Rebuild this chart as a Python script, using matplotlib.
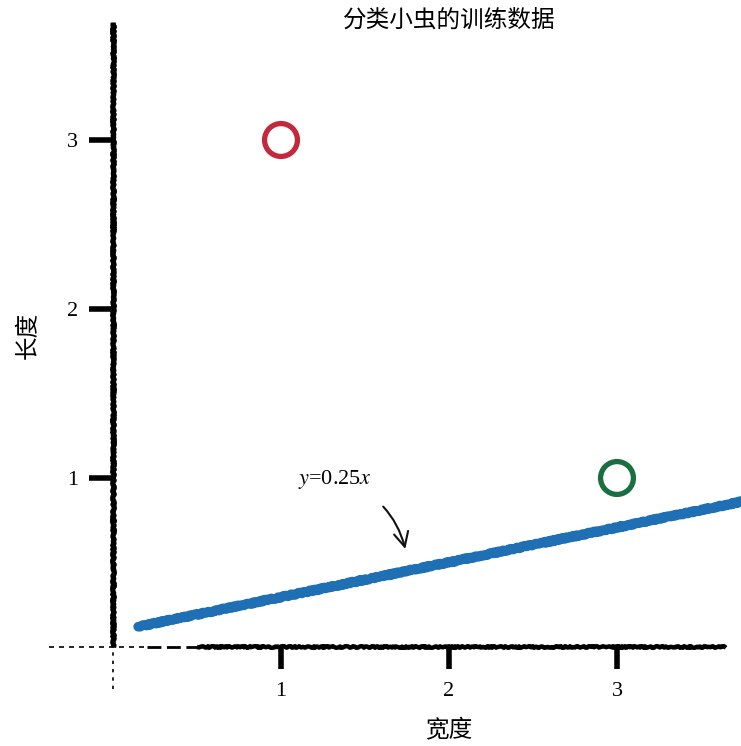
import matplotlib
matplotlib.use("Agg")
import matplotlib.pyplot as plt

plt.rcParams['font.family'] = ['Liberation Serif', 'Noto Sans CJK SC', 'DejaVu Sans']
plt.rcParams['mathtext.fontset'] = 'stix'

# data
red_x, red_y = [1], [3]
green_x, green_y = [3], [1]
line_x = [0.15, 3.74]
line_y = [0.12, 0.86]
ticks = [1, 2, 3]
title = '分类小虫的训练数据'
xlabel = '宽度'
ylabel = '长度'
note = '$y$=0.25$x$'

W, H = 741, 746
fig = plt.figure(figsize=(W / 100, H / 100), dpi=100)
# x: 0 -> px 113, 168 px/unit ; y: 0 -> px 647, 169 px/unit
x0, x1 = -0.4, 3.74
y0, y1 = -0.3, 3.71
left = (113 + x0 * 168) / W
width = (x1 - x0) * 168 / W
bottom = (H - (647 - y0 * 169)) / H
height = (y1 - y0) * 169 / H
ax = fig.add_axes([left, bottom, width, height])
ax.set_xlim(x0, x1)
ax.set_ylim(y0, y1)
ax.spines['left'].set_position(('data', 0))
ax.spines['bottom'].set_position(('data', 0))
for s in ax.spines.values():
    s.set_color('none')

# hand drawn axes
ya, = ax.plot([0, 0], [0, 3.7], color='black', lw=3.8, clip_on=False, solid_capstyle='butt')
ya.set_sketch_params(0.8, 6, 4)
xa, = ax.plot([0.5, 3.65], [0, 0], color='black', lw=3.2, clip_on=False, solid_capstyle='butt')
xa.set_sketch_params(0.8, 6, 4)
xb, = ax.plot([0.2, 0.5], [0, 0], color='black', lw=2.0, ls=(0, (5, 2)), clip_on=False)
xf, = ax.plot([-0.38, 0.2], [0, 0], color='black', lw=1.2, ls=(0, (3, 3)), clip_on=False)
yf, = ax.plot([0, 0], [-0.25, 0], color='black', lw=1.2, ls=(0, (2, 3)), clip_on=False)

ax.set_xticks(ticks)
ax.set_yticks(ticks)
ax.set_xticklabels([str(t) for t in ticks])
ax.set_yticklabels([str(t) for t in ticks])
ax.tick_params(axis='y', length=17, width=4, pad=8, labelsize=16, color='black')
ax.tick_params(axis='x', length=16, width=4, pad=9, labelsize=16, color='black')

# blue line
bl, = ax.plot(line_x, line_y, color='#1f6fb4', lw=7, solid_capstyle='round')
bl.set_sketch_params(0.7, 6, 4)

# circles
ax.scatter(red_x, red_y, s=560, facecolors='none', edgecolors='#c4283d', linewidths=3.8)
ax.scatter(green_x, green_y, s=560, facecolors='none', edgecolors='#1a6e40', linewidths=3.8)

# annotation
ax.annotate(note, xy=(1.74, 0.58), xytext=(1.32, 0.99), fontsize=16,
            ha='center', va='center',
            arrowprops=dict(arrowstyle='->', color='#111111', lw=1.5,
                            connectionstyle='arc3,rad=-0.3',
                            shrinkA=14, shrinkB=0, mutation_scale=26))

fig.text(449 / W, 1 - 20 / H, title, fontsize=17, ha='center', va='center',
         family=['Noto Sans CJK SC'])
fig.text(449 / W, 1 - 730 / H, xlabel, fontsize=17, ha='center', va='center',
         family=['Noto Sans CJK SC'])
fig.text(28 / W, 1 - 335 / H, ylabel, fontsize=17, ha='center', va='center',
         rotation=90, family=['Noto Sans CJK SC'])

fig.savefig('out.png', dpi=100)
